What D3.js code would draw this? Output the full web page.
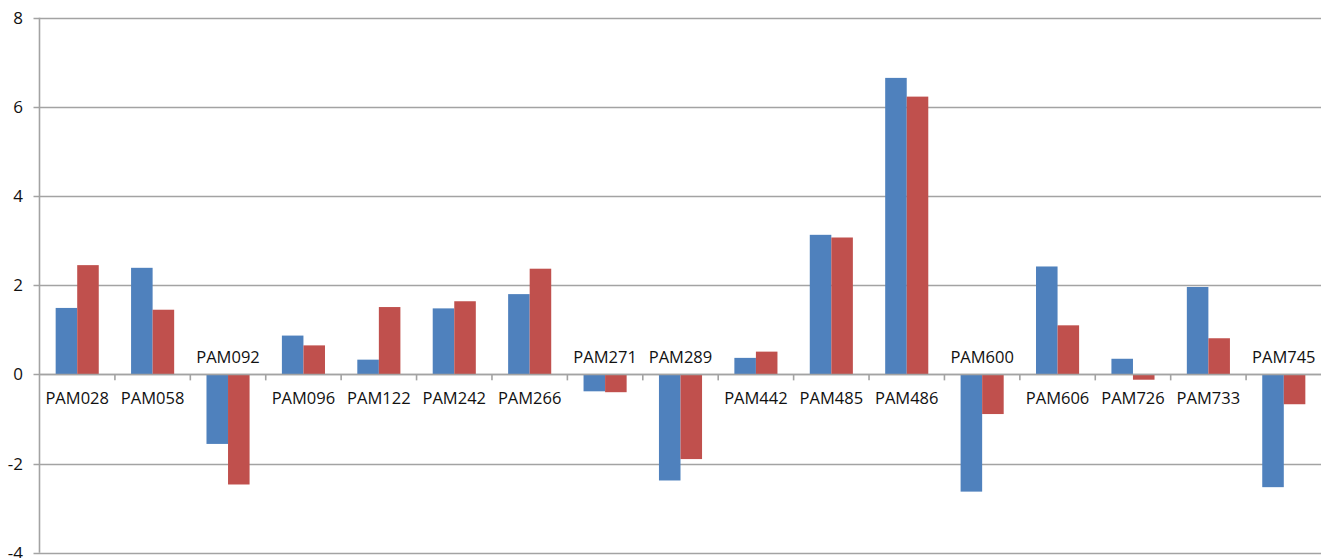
<!DOCTYPE html>
<html>
<head>
<meta charset="utf-8">
<script src="https://cdn.jsdelivr.net/npm/d3@7"></script>
<style>
  body { margin: 0; background: #fff; }
  svg text { font-family: "Open Sans", sans-serif; fill: #111; }
</style>
</head>
<body>
<svg id="chart" width="1321" height="558"></svg>
<script>
// chart data
var categories = ["PAM028", "PAM058", "PAM092", "PAM096", "PAM122", "PAM242", "PAM266", "PAM271", "PAM289",
                  "PAM442", "PAM485", "PAM486", "PAM600", "PAM606", "PAM726", "PAM733", "PAM745"];
var seriesBlue = [1.49, 2.39, -1.56, 0.87, 0.33, 1.48, 1.80, -0.38, -2.38, 0.37, 3.13, 6.65, -2.63, 2.42, 0.35, 1.96, -2.53];
var seriesRed  = [2.45, 1.45, -2.47, 0.65, 1.51, 1.64, 2.37, -0.40, -1.90, 0.51, 3.07, 6.23, -0.89, 1.10, -0.12, 0.81, -0.67];
var yTicks = [-4, -2, 0, 2, 4, 6, 8];

var plotLeft = 39.5, plotRight = 1321.5, plotTop = 17.7, plotBottom = 552.7;

var svg = d3.select("#chart");

var x = d3.scaleBand().domain(categories).range([plotLeft, plotRight]);
var y = d3.scaleLinear().domain([-4, 8]).range([plotBottom, plotTop]);

// bars: gap width 150% like the spreadsheet default
var barW = x.bandwidth() / 3.5;
var gap = (x.bandwidth() - 2 * barW) / 2;

// gridlines
svg.append("g").selectAll("line")
  .data(yTicks)
  .enter().append("line")
  .attr("x1", plotLeft - 6).attr("x2", plotRight)
  .attr("y1", function(d) { return Math.round(y(d)) + 0.5; })
  .attr("y2", function(d) { return Math.round(y(d)) + 0.5; })
  .attr("stroke", "#a3a3a3")
  .attr("stroke-width", 1.6);

// y tick labels
svg.append("g").selectAll("text")
  .data(yTicks)
  .enter().append("text")
  .attr("x", 23)
  .attr("y", function(d) { return y(d) + 6; })
  .attr("text-anchor", "end")
  .style("font-size", "17px")
  .text(function(d) { return d; });

var series = [
  { values: seriesBlue, color: "#4f81bd", offset: 0 },
  { values: seriesRed,  color: "#c0504d", offset: 1 }
];

series.forEach(function(s) {
  svg.append("g").selectAll("rect")
    .data(s.values)
    .enter().append("rect")
    .attr("x", function(d, i) { return x(categories[i]) + gap + s.offset * barW; })
    .attr("width", barW)
    .attr("y", function(d) { return y(Math.max(0, d)); })
    .attr("height", function(d) { return Math.abs(y(d) - y(0)); })
    .attr("fill", s.color);
});

// category axis along zero line
svg.append("line")
  .attr("x1", plotLeft).attr("x2", plotRight)
  .attr("y1", Math.round(y(0)) + 0.5).attr("y2", Math.round(y(0)) + 0.5)
  .attr("stroke", "#a3a3a3").attr("stroke-width", 1.6);

svg.append("g").selectAll("line")
  .data(categories.slice(1))
  .enter().append("line")
  .attr("x1", function(d) { return x(d); })
  .attr("x2", function(d) { return x(d); })
  .attr("y1", y(0)).attr("y2", y(0) + 6)
  .attr("stroke", "#a3a3a3").attr("stroke-width", 1.6);

// value axis
svg.append("line")
  .attr("x1", plotLeft).attr("x2", plotLeft)
  .attr("y1", plotTop).attr("y2", plotBottom)
  .attr("stroke", "#a3a3a3").attr("stroke-width", 1.6);

// category labels: above the axis when the blue bar is negative
svg.append("g").selectAll("text")
  .data(categories)
  .enter().append("text")
  .attr("x", function(d) { return x(d) + x.bandwidth() / 2; })
  .attr("y", function(d, i) { return seriesBlue[i] < 0 ? y(0) - 11 : y(0) + 30; })
  .attr("text-anchor", "middle")
  .style("font-size", "16.5px")
  .text(function(d) { return d; });
</script>
</body>
</html>
